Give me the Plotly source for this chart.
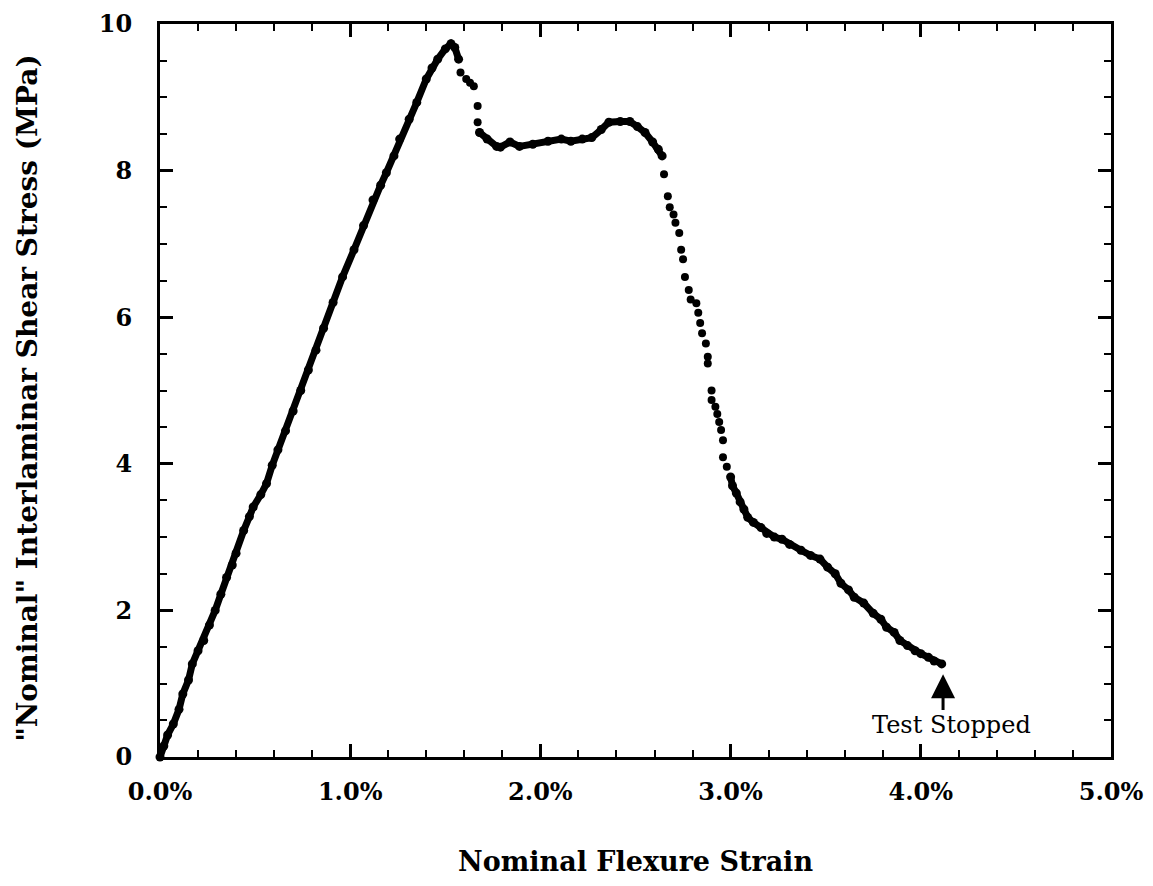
import plotly.graph_objects as go

# ---- data (strain in %, stress in MPa) ----
rise_strain = [0.00, 0.02, 0.04, 0.07, 0.10, 0.12, 0.15, 0.17, 0.20, 0.23, 0.26, 0.29,
               0.32, 0.35, 0.38, 0.40, 0.44, 0.47, 0.49, 0.53, 0.56, 0.59, 0.62, 0.66,
               0.70, 0.74, 0.78, 0.82, 0.86, 0.91, 0.96, 1.02, 1.07, 1.12, 1.16, 1.19,
               1.23, 1.26, 1.31, 1.35, 1.40, 1.43, 1.46, 1.50, 1.53, 1.55, 1.57]
rise_stress = [0.00, 0.15, 0.30, 0.45, 0.65, 0.86, 1.05, 1.27, 1.45, 1.59, 1.80, 2.00,
               2.22, 2.45, 2.62, 2.78, 3.09, 3.28, 3.41, 3.58, 3.73, 3.98, 4.19, 4.45,
               4.72, 5.00, 5.28, 5.55, 5.85, 6.20, 6.55, 6.92, 7.25, 7.60, 7.80, 7.97,
               8.20, 8.43, 8.70, 8.93, 9.25, 9.40, 9.52, 9.66, 9.73, 9.68, 9.52]

knee_strain = [1.58, 1.61, 1.63, 1.65, 1.67, 1.67, 1.68]
knee_stress = [9.34, 9.25, 9.20, 9.15, 8.88, 8.66, 8.52]

plateau_strain = [1.68, 1.72, 1.77, 1.79, 1.84, 1.89, 1.96, 2.04, 2.11, 2.16, 2.22, 2.27,
                  2.32, 2.36, 2.42, 2.47, 2.51, 2.55, 2.59, 2.62, 2.64]
plateau_stress = [8.52, 8.43, 8.33, 8.32, 8.39, 8.33, 8.36, 8.40, 8.43, 8.40, 8.43, 8.45,
                  8.56, 8.66, 8.67, 8.67, 8.60, 8.52, 8.39, 8.29, 8.20]

drop_strain = [2.65, 2.67, 2.68, 2.70, 2.71, 2.73, 2.74, 2.75, 2.76, 2.78, 2.79, 2.82,
               2.83, 2.84, 2.85, 2.87, 2.88, 2.88, 2.90, 2.90, 2.92, 2.93, 2.94, 2.95,
               2.96, 2.96, 2.98]
drop_stress = [7.95, 7.65, 7.50, 7.40, 7.29, 7.15, 6.92, 6.79, 6.55, 6.37, 6.24, 6.19,
               6.06, 5.92, 5.78, 5.64, 5.46, 5.37, 5.00, 4.87, 4.78, 4.68, 4.57, 4.46,
               4.32, 4.09, 3.96]

tail_strain = [3.00, 3.01, 3.03, 3.05, 3.07, 3.09, 3.12, 3.16, 3.19, 3.23, 3.27, 3.31,
               3.37, 3.42, 3.47, 3.51, 3.55, 3.58, 3.62, 3.65, 3.70, 3.75, 3.79, 3.82,
               3.86, 3.89, 3.93, 3.97, 4.00, 4.04, 4.07, 4.11]
tail_stress = [3.82, 3.70, 3.60, 3.48, 3.38, 3.27, 3.20, 3.13, 3.05, 3.00, 2.97, 2.90,
               2.82, 2.75, 2.70, 2.59, 2.50, 2.37, 2.28, 2.18, 2.10, 1.96, 1.88, 1.77,
               1.70, 1.59, 1.52, 1.45, 1.41, 1.36, 1.31, 1.27]

x_tickvals = [0, 1, 2, 3, 4, 5]
x_ticktext = ["0.0%", "1.0%", "2.0%", "3.0%", "4.0%", "5.0%"]
y_tickvals = [0, 2, 4, 6, 8, 10]

stop_strain = 4.117
stop_label = "Test Stopped"

# ---- figure ----
INK = "black"
fig = go.Figure()

dense = dict(mode="lines+markers", line=dict(color=INK, width=7),
             marker=dict(color=INK, size=9), cliponaxis=False, hoverinfo="skip")
sparse = dict(mode="markers", marker=dict(color=INK, size=8),
              cliponaxis=False, hoverinfo="skip")

fig.add_trace(go.Scatter(x=rise_strain, y=rise_stress, **dense))
fig.add_trace(go.Scatter(x=knee_strain, y=knee_stress, **sparse))
fig.add_trace(go.Scatter(x=plateau_strain, y=plateau_stress, **dense))
fig.add_trace(go.Scatter(x=drop_strain, y=drop_stress, **sparse))
fig.add_trace(go.Scatter(x=tail_strain, y=tail_stress, **dense))

tick_font = dict(family="DejaVu Serif", size=24, color=INK, weight="bold")

axis_common = dict(
    showline=True, linewidth=3, linecolor=INK, mirror="ticks",
    ticks="inside", ticklen=13, tickwidth=2.5, tickcolor=INK,
    showgrid=False, zeroline=False, automargin=False,
    tickfont=tick_font,
)

fig.update_xaxes(range=[0, 5], tickvals=x_tickvals, ticktext=x_ticktext,
                 ticklabelstandoff=11,
                 minor=dict(ticks="inside", ticklen=7, tickwidth=2, tickcolor=INK,
                            dtick=0.2, tick0=0, showgrid=False),
                 **axis_common)
fig.update_yaxes(range=[0, 10], tickvals=y_tickvals,
                 ticklabelstandoff=20,
                 minor=dict(ticks="inside", ticklen=7, tickwidth=2, tickcolor=INK,
                            dtick=0.5, tick0=0, showgrid=False),
                 **axis_common)

title_font = dict(family="DejaVu Serif", size=27, color=INK, weight="bold")

fig.add_annotation(text="Nominal Flexure Strain", xref="paper", yref="paper",
                   x=0.5, y=-0.142, xanchor="center", yanchor="middle",
                   showarrow=False, font=title_font)
fig.add_annotation(text="\"Nominal\" Interlaminar Shear Stress (MPa)",
                   xref="paper", yref="paper", x=-0.1388, y=0.49,
                   xanchor="center", yanchor="middle", textangle=-90,
                   showarrow=False,
                   font=dict(family="DejaVu Serif", size=28, color=INK, weight="bold"))

# arrow marking where the test stopped
fig.add_annotation(x=stop_strain, y=1.13, ax=stop_strain, ay=0.62,
                   xref="x", yref="y", axref="x", ayref="y",
                   text="", showarrow=True, arrowhead=2, arrowsize=1.6,
                   arrowwidth=3, arrowcolor=INK)
fig.add_annotation(x=4.164, y=0.44, xref="x", yref="y", text=stop_label,
                   showarrow=False, xanchor="center", yanchor="middle",
                   font=dict(family="DejaVu Serif", size=24, color=INK))

fig.update_layout(width=1153, height=886,
                  margin=dict(l=160, r=42, t=24, b=129, pad=0),
                  plot_bgcolor="white", paper_bgcolor="white",
                  showlegend=False)

fig.write_html("out.html", config={"displayModeBar": False},
               post_script="document.body.style.margin='0';document.body.style.overflow='hidden';")
